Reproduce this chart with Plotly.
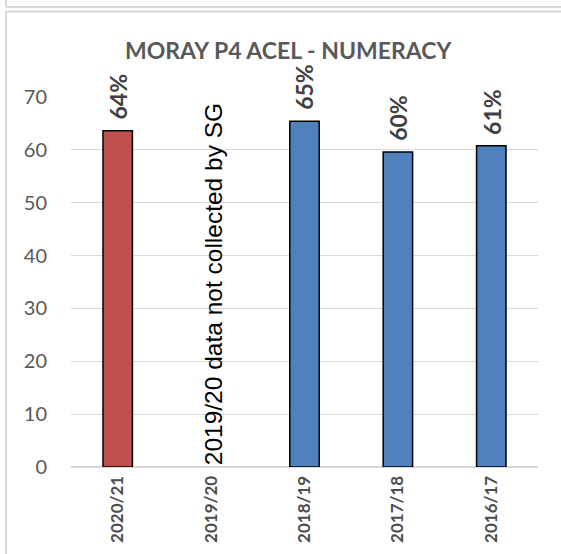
import plotly.graph_objects as go

categories = ["2020/21", "2019/20", "2018/19", "2017/18", "2016/17"]
values = [63.6, None, 65.4, 59.6, 60.8]
labels = ["64%", "", "65%", "60%", "61%"]
bar_colors = ["#c0504d", "#4f81bd", "#4f81bd", "#4f81bd", "#4f81bd"]
title_text = "MORAY P4 ACEL - NUMERACY"
note_text = "2019/20 data not collected by SG"
y_ticks = [0, 10, 20, 30, 40, 50, 60, 70]

W, H = 561, 554
L, R, T, B = 71, 23, 97, 87
pw, ph = W - L - R, H - T - B


def px(x):
    return (x - L) / pw


def py(y):
    return (H - B - y) / ph


fig = go.Figure()
fig.add_trace(go.Bar(
    x=categories, y=values, width=0.315,
    marker=dict(color=bar_colors, line=dict(color="#000000", width=1.5)),
    hoverinfo="skip",
))

for c, v, t in zip(categories, values, labels):
    if v is None:
        continue
    fig.add_annotation(x=c, y=v, text=t, textangle=-90, showarrow=False,
                       xref="x", yref="y", yanchor="bottom", yshift=9,
                       font=dict(family="Lato", size=23, color="#404040", weight="bold"))

fig.add_annotation(x=categories[1], y=34.6, text=note_text, textangle=-90,
                   showarrow=False, xref="x", yref="y", xshift=2,
                   font=dict(family="Liberation Sans, Arial", size=24.5, color="#000000"))

fig.add_annotation(x=px(288), y=py(50), xref="paper", yref="paper",
                   text="<b>" + title_text + "</b>", showarrow=False,
                   xanchor="center", yanchor="middle",
                   font=dict(family="Lato", size=23, color="#595959"))

line_col = "#d9d9d9"
fig.add_shape(type="line", xref="paper", yref="paper",
              x0=px(6), x1=px(6), y0=py(11), y1=py(560),
              line=dict(color=line_col, width=2))
fig.add_shape(type="line", xref="paper", yref="paper",
              x0=px(6), x1=px(600), y0=py(11.5), y1=py(11.5),
              line=dict(color=line_col, width=2))
fig.add_shape(type="line", xref="paper", yref="paper",
              x0=px(6), x1=px(600), y0=py(7), y1=py(7),
              line=dict(color=line_col, width=2))
fig.add_shape(type="line", xref="paper", yref="paper",
              x0=px(6), x1=px(6), y0=py(7), y1=py(-5),
              line=dict(color=line_col, width=2))

fig.update_layout(
    width=W, height=H,
    margin=dict(l=L, r=R, t=T, b=B, pad=0, autoexpand=False),
    paper_bgcolor="white", plot_bgcolor="white",
    showlegend=False,
    xaxis=dict(
        type="category", tickangle=-90, showgrid=False, showline=True,
        linecolor="#d9d9d9", linewidth=1, ticks="", ticklabelstandoff=1,
        automargin=False,
        tickfont=dict(family="Lato", size=17, color="#4d4d4d", weight="bold"),
        fixedrange=True,
    ),
    yaxis=dict(
        range=[0, 70], tickvals=y_ticks, showgrid=True, gridcolor="#d9d9d9",
        gridwidth=1, zeroline=True, zerolinecolor="#d9d9d9", showline=False,
        ticks="", ticklabelstandoff=23, automargin=False,
        tickfont=dict(family="Lato", size=20, color="#595959"),
        fixedrange=True,
    ),
)

fig.write_html("out.html", config={"displayModeBar": False},
               post_script="document.body.style.margin='0';document.body.style.overflow='hidden';")
